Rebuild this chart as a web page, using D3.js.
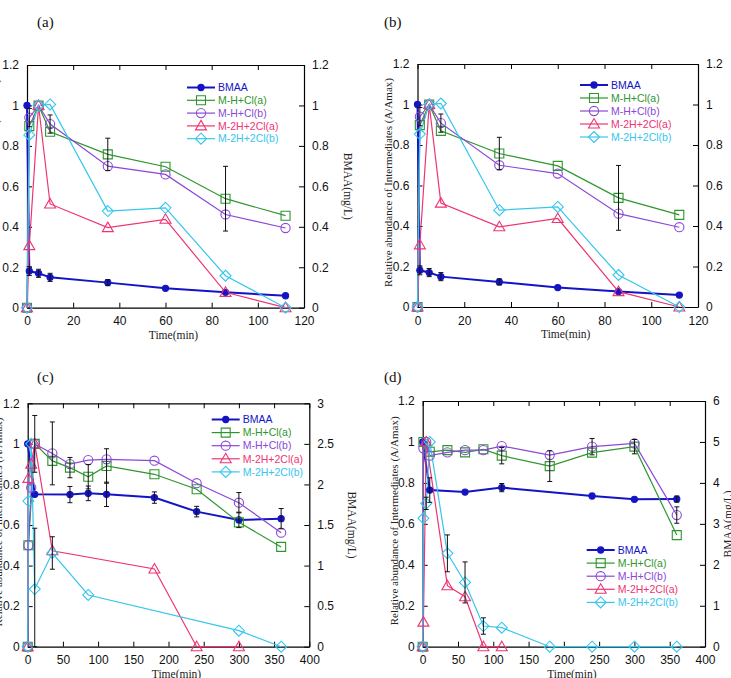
<!DOCTYPE html>
<html>
<head>
<meta charset="utf-8">
<script src="https://cdn.jsdelivr.net/npm/d3@7"></script>
<style>
body { margin: 0; background: #fff; }
svg text { font-family: "Liberation Sans", Arial, sans-serif; }
svg text.serif { font-family: "Liberation Serif", "Times New Roman", serif; }
</style>
</head>
<body>
<svg id="chart" width="731" height="678"></svg>
<script>
// legend names, one per series
const seriesNames = ["BMAA", "M-H+Cl(a)", "M-H+Cl(b)", "M-2H+2Cl(a)", "M-2H+2Cl(b)"];
const panelLabels = ["(a)", "(b)", "(c)", "(d)"];

// sampling times (min)
const timeShort = [0, 1, 5, 10, 35, 60, 86, 112];
const timeLong = [0, 1, 5, 10, 35, 60, 86, 112, 180, 240, 300, 360];

const xTicksShort = [0, 20, 40, 60, 80, 100, 120];
const xTicksLong = [0, 50, 100, 150, 200, 250, 300, 350, 400];
const yTicksLeft = [0, 0.2, 0.4, 0.6, 0.8, 1, 1.2];
const yTicksRightAB = [0, 0.2, 0.4, 0.6, 0.8, 1, 1.2];
const yTicksRightC = [0, 0.5, 1, 1.5, 2, 2.5, 3];
const yTicksRightD = [0, 1, 2, 3, 4, 5, 6];

// panels (a) and (b): BMAA in mg/L (right axis), intermediates A/Amax (left axis)
const bmaaA = [1.0, 0.181, 0.17, 0.15, 0.124, 0.096, 0.076, 0.059];
const bmaaAErr = [0, 0.022, 0.02, 0.02, 0.015, 0, 0, 0];
const mhclaA = [0, 0.898, 1.0, 0.87, 0.758, 0.697, 0.539, 0.455];
const mhclaAErr = [0, 0, 0, 0, 0.08, 0, 0.16, 0];
const mhclbA = [0, 0.94, 1.0, 0.908, 0.70, 0.659, 0.461, 0.394];
const mhclbAErr = [0, 0.045, 0, 0.045, 0, 0, 0, 0];
const m2claA = [0, 0.307, 1.0, 0.513, 0.396, 0.437, 0.076, 0];
const m2clbA = [0, 0.854, 1.0, 1.005, 0.478, 0.494, 0.158, 0];

// panel (c)
const bmaaC = [2.5, null, null, 1.878, null, 1.875, 1.89, 1.878, 1.838, 1.665, 1.563, 1.578];
const bmaaCErr = [0, 0, 0, 0, 0, 0.1, 0.09, 0.15, 0.07, 0.065, 0.095, 0.125];
const mhclaC = [0, 0.5, null, 1.0, 0.916, 0.883, 0.838, 0.891, 0.85, 0.776, 0.613, 0.492];
const mhclaCErr = [0, 0, 0, 0.14, 0, 0.05, 0.06, 0.085, 0, 0, 0, 0];
const mhclbC = [0, 0.5, 0.784, 1.0, 0.953, 0.9, 0.92, 0.924, 0.917, 0.806, 0.71, 0.562];
const mhclbCErr = [0, 0, 0, 0, 0.155, 0, 0, 0, 0, 0, 0.05, 0];
const m2claC = [0, 0.83, 0.9, 1.0, 0.473, null, null, null, 0.383, 0, 0, null];
const m2clbC = [0, 0.718, 1.0, 0.284, 0.462, null, 0.255, null, null, null, 0.079, 0];
const m2clbCErr = [0, 0, 0, 0.3, 0.08, 0, 0, 0, 0, 0, 0, 0];

// panel (d)
const bmaaD = [5.0, null, null, 3.825, null, 3.775, null, 3.885, null, 3.68, 3.6, 3.605];
const bmaaDErr = [0, 0, 0, 0.3, 0, 0, 0, 0.1, 0, 0, 0, 0.075];
const mhclaD = [0, 1.0, null, 0.952, 0.96, 0.949, 0.964, 0.933, 0.882, 0.948, 0.977, 0.545];
const mhclaDErr = [0, 0, 0, 0, 0, 0, 0, 0.04, 0.075, 0, 0.035, 0];
const mhclbD = [0, 0.969, 1.0, 0.933, 0.949, 0.96, 0.96, 0.98, 0.936, 0.977, 0.993, 0.643];
const mhclbDErr = [0, 0, 0, 0, 0, 0, 0, 0, 0, 0.04, 0, 0.04];
const m2claD = [0, 0.12, 1.0, null, 0.298, 0.244, 0, 0, null, null, null, null];
const m2clbD = [0, 0.627, 0.70, 1.0, 0.456, 0.314, 0.101, 0.093, 0, 0, 0, 0];
const m2clbDErr = [0, 0, 0.03, 0, 0.09, 0.1, 0.04, 0, 0, 0, 0, 0];

const colors = ["#1414c4", "#2e962e", "#8a48d8", "#ee3574", "#36c6ee"];
const shapes = ["dot", "square", "circle", "triangle", "diamond"];

const svg = d3.select("#chart");

function markerPath(shape) {
    if (shape === "square") return "M-4.5,-4.5H4.5V4.5H-4.5Z";
    if (shape === "triangle") return "M0,-5.5L5.5,4L-5.5,4Z";
    if (shape === "diamond") return "M0,-5.5L5.5,0L0,5.5L-5.5,0Z";
    if (shape === "circle") return d3.symbol(d3.symbolCircle, Math.PI * 4.6 * 4.6)();
    return d3.symbol(d3.symbolCircle, Math.PI * 3.1 * 3.1)();
}

function drawMarker(g, shape, color, x, y) {
    g.append("path")
        .attr("d", markerPath(shape))
        .attr("transform", `translate(${x},${y})`)
        .attr("fill", shape === "dot" ? color : "none")
        .attr("stroke", color)
        .attr("stroke-width", 1.1);
}

function fmt(d) { return String(+d.toFixed(2)); }

function drawPanel(p) {
    const x = d3.scaleLinear().domain([0, p.xMax]).range([p.left, p.right]);
    const yL = d3.scaleLinear().domain([0, 1.2]).range([p.bottom, p.top]);
    const yR = d3.scaleLinear().domain([0, p.rMax]).range([p.bottom, p.top]);
    const g = svg.append("g");

    const axisStyle = sel => {
        sel.selectAll("path.domain").attr("stroke", "#000").attr("stroke-width", 1.2);
        sel.selectAll("line").attr("stroke", "#000");
        sel.selectAll("text").attr("font-size", 12).attr("fill", "#111")
            .attr("font-family", "'Liberation Sans', Arial, sans-serif");
    };

    g.append("g").attr("transform", `translate(0,${p.bottom})`)
        .call(d3.axisBottom(x).tickValues(p.xTicks).tickFormat(fmt).tickSize(-5).tickSizeOuter(0).tickPadding(9))
        .call(axisStyle);
    g.append("g").attr("transform", `translate(0,${p.top})`)
        .call(d3.axisTop(x).tickValues(p.xTicks).tickFormat("").tickSize(-5).tickSizeOuter(0))
        .call(axisStyle);
    g.append("g").attr("transform", `translate(${p.left},0)`)
        .call(d3.axisLeft(yL).tickValues(yTicksLeft).tickFormat(fmt).tickSize(-5).tickSizeOuter(0).tickPadding(8))
        .call(axisStyle);
    g.append("g").attr("transform", `translate(${p.right},0)`)
        .call(d3.axisRight(yR).tickValues(p.rTicks).tickFormat(fmt).tickSize(-5).tickSizeOuter(0).tickPadding(8))
        .call(axisStyle);

    // axis titles
    g.append("text").attr("class", "serif")
        .attr("x", (p.left + p.right) / 2 + 8).attr("y", p.bottom + 31)
        .attr("text-anchor", "middle").attr("font-size", 11.5).attr("fill", "#222")
        .text("Time(min)");
    g.append("text").attr("class", "serif")
        .attr("transform", `translate(${p.leftTitleX},${(p.top + p.bottom) / 2 - 3}) rotate(-90)`)
        .attr("text-anchor", "middle").attr("font-size", 11).attr("fill", "#222")
        .text("Relative abundance of Intermediates (A/Amax)");
    g.append("text").attr("class", "serif")
        .attr("transform", `translate(${p.rightTitleX},${(p.top + p.bottom) / 2}) rotate(${p.rightTitleRot})`)
        .attr("text-anchor", "middle").attr("font-size", 11.5).attr("fill", "#222")
        .text("BMAA(mg/L)");

    g.append("text").attr("class", "serif")
        .attr("x", p.labelX).attr("y", p.labelY)
        .attr("font-size", 15).attr("fill", "#111")
        .text(p.label);

    // series
    const lineG = g.append("g");
    const markG = g.append("g");
    const errG = g.append("g");
    p.series.forEach((s, k) => {
        const ys = k === 0 ? yR : yL;
        const pts = p.times.map((t, i) => ({ t: t, v: s.values[i], e: s.errs ? s.errs[i] : 0 }))
            .filter(d => d.v !== null);
        const line = d3.line().x(d => x(d.t)).y(d => ys(d.v));
        lineG.append("path").datum(pts)
            .attr("d", line)
            .attr("fill", "none")
            .attr("stroke", colors[k])
            .attr("stroke-width", k === 0 ? 2 : 1.2);
        pts.forEach(d => drawMarker(markG, shapes[k], colors[k], x(d.t), ys(d.v)));
        pts.filter(d => d.e > 0).forEach(d => {
            const cx = x(d.t);
            const y1 = ys(Math.max(0, d.v - d.e));
            const y2 = ys(d.v + d.e);
            errG.append("line").attr("x1", cx).attr("x2", cx).attr("y1", y1).attr("y2", y2)
                .attr("stroke", "#111").attr("stroke-width", 1);
            [y1, y2].forEach(yy => errG.append("line")
                .attr("x1", cx - 2.5).attr("x2", cx + 2.5).attr("y1", yy).attr("y2", yy)
                .attr("stroke", "#111").attr("stroke-width", 1));
        });
    });

    // legend
    const leg = g.append("g");
    seriesNames.forEach((name, k) => {
        const yy = p.legY + k * p.legDy;
        leg.append("line")
            .attr("x1", p.legX).attr("x2", p.legX + 28).attr("y1", yy).attr("y2", yy)
            .attr("stroke", colors[k]).attr("stroke-width", k === 0 ? 2 : 1.2);
        drawMarker(leg, shapes[k], colors[k], p.legX + 14, yy);
        leg.append("text")
            .attr("x", p.legX + 31).attr("y", yy).attr("dy", "0.36em")
            .attr("font-size", 10.5).attr("fill", colors[k])
            .text(name);
    });
}

const seriesAB = [
    { values: bmaaA, errs: bmaaAErr },
    { values: mhclaA, errs: mhclaAErr },
    { values: mhclbA, errs: mhclbAErr },
    { values: m2claA },
    { values: m2clbA }
];

drawPanel({
    label: panelLabels[0], labelX: 37, labelY: 27,
    left: 27, right: 304, top: 65, bottom: 307.7,
    xMax: 120, xTicks: xTicksShort, rMax: 1.2, rTicks: yTicksRightAB,
    leftTitleX: -1.5, rightTitleX: 344, rightTitleRot: 90,
    times: timeShort, series: seriesAB,
    legX: 187, legY: 87.5, legDy: 12.8
});

drawPanel({
    label: panelLabels[1], labelX: 384, labelY: 27,
    left: 417.5, right: 698, top: 64, bottom: 307,
    xMax: 120, xTicks: xTicksShort, rMax: 1.2, rTicks: yTicksRightAB,
    leftTitleX: 391.5, rightTitleX: 742, rightTitleRot: 90,
    times: timeShort, series: seriesAB,
    legX: 580, legY: 85, legDy: 13
});

drawPanel({
    label: panelLabels[2], labelX: 37, labelY: 382,
    left: 27.7, right: 309.3, top: 403.3, bottom: 646.7,
    xMax: 400, xTicks: xTicksLong, rMax: 3, rTicks: yTicksRightC,
    leftTitleX: 2, rightTitleX: 348, rightTitleRot: 90,
    times: timeLong,
    series: [
        { values: bmaaC, errs: bmaaCErr },
        { values: mhclaC, errs: mhclaCErr },
        { values: mhclbC, errs: mhclbCErr },
        { values: m2claC },
        { values: m2clbC, errs: m2clbCErr }
    ],
    legX: 211.7, legY: 419.5, legDy: 13.1
});

drawPanel({
    label: panelLabels[3], labelX: 384, labelY: 382,
    left: 422.7, right: 705, top: 401, bottom: 646.7,
    xMax: 400, xTicks: xTicksLong, rMax: 6, rTicks: yTicksRightD,
    leftTitleX: 397.5, rightTitleX: 732, rightTitleRot: -90,
    times: timeLong,
    series: [
        { values: bmaaD, errs: bmaaDErr },
        { values: mhclaD, errs: mhclaDErr },
        { values: mhclbD, errs: mhclbDErr },
        { values: m2claD },
        { values: m2clbD, errs: m2clbDErr }
    ],
    legX: 586.7, legY: 550, legDy: 13.1
});
</script>
</body>
</html>
